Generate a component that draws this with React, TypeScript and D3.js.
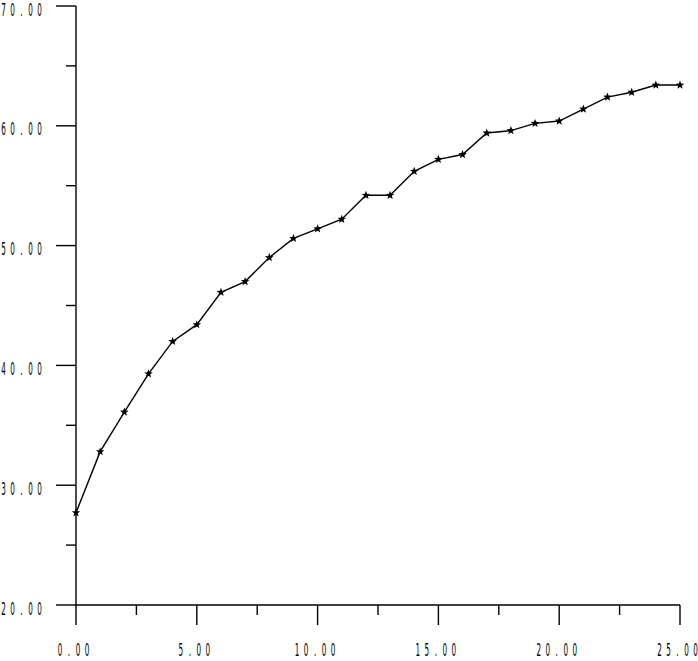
import React from "react";
import * as d3 from "d3";

const xValues = [0,1,2,3,4,5,6,7,8,9,10,11,12,13,14,15,16,17,18,19,20,21,22,23,24,25];
const yValues = [27.7,32.8,36.1,39.3,42.0,43.4,46.1,47.0,49.0,50.6,51.4,52.2,54.2,54.2,56.2,57.2,57.6,59.4,59.6,60.2,60.4,61.4,62.4,62.8,63.4,63.4];
const xMajorTicks = [0,5,10,15,20,25];
const xMinorTicks = [2.5,7.5,12.5,17.5,22.5];
const yMajorTicks = [20,30,40,50,60,70];
const yMinorTicks = [25,35,45,55,65];

const W = 698, H = 661;
const x = d3.scaleLinear().domain([0,25]).range([76,680]);
const y = d3.scaleLinear().domain([20,70]).range([605,6]);

const fmt = (v: number) => v.toFixed(2);
const FONT = "'DejaVu Sans', sans-serif";
const PITCH = 9;

function Label({ s, cx, baseline }: { s: string; cx: number; baseline: number }) {
  const n = s.length;
  const first = cx - ((n - 1) * PITCH) / 2;
  return (
    <g>
      {s.split("").map((ch, i) => (
        <text key={i} transform={`translate(${first + i * PITCH},${baseline}) scale(0.4,1)`}
          textAnchor="middle" fontFamily={FONT} fontSize={18} fill="#000">{ch}</text>
      ))}
    </g>
  );
}

function star(cx: number, cy: number, r: number) {
  const pts: string[] = [];
  for (let i = 0; i < 10; i++) {
    const rr = i % 2 === 0 ? r : r * 0.42;
    const a = -Math.PI / 2 + (i * Math.PI) / 5;
    pts.push(`${cx + rr * Math.cos(a)},${cy + rr * Math.sin(a)}`);
  }
  return pts.join(" ");
}

export default function App() {
  const line = d3.line<number>().x((_, i) => x(xValues[i])).y((v) => y(v));
  return (
    <svg width={W} height={H} style={{ position: "absolute", left: 0, top: 0, background: "#fff" }}>
      <rect width={W} height={H} fill="#fff" />
      <line x1={x(0)} x2={x(0)} y1={y(70)} y2={y(20)} stroke="#000" strokeWidth={1.4} />
      <line x1={x(0)} x2={x(25)} y1={y(20)} y2={y(20)} stroke="#000" strokeWidth={1.4} />
      {yMajorTicks.map((t) => {
        const s = fmt(t);
        const cx = 39.5 - ((s.length - 1) * PITCH) / 2;
        return (
          <g key={"ym" + t}>
            <line x1={x(0) - 20} x2={x(0)} y1={y(t)} y2={y(t)} stroke="#000" strokeWidth={1.4} />
            <Label s={s} cx={cx} baseline={y(t) + 9.5} />
          </g>
        );
      })}
      {yMinorTicks.map((t) => (
        <line key={"yn" + t} x1={x(0) - 10} x2={x(0)} y1={y(t)} y2={y(t)} stroke="#000" strokeWidth={1.4} />
      ))}
      {xMajorTicks.map((t) => (
        <g key={"xm" + t}>
          <line x1={x(t)} x2={x(t)} y1={y(20)} y2={y(20) + 20} stroke="#000" strokeWidth={1.4} />
          <Label s={fmt(t)} cx={x(t) - 2.5} baseline={656} />
        </g>
      ))}
      {xMinorTicks.map((t) => (
        <line key={"xn" + t} x1={x(t)} x2={x(t)} y1={y(20)} y2={y(20) + 10} stroke="#000" strokeWidth={1.4} />
      ))}
      <path d={line(yValues) || ""} fill="none" stroke="#000" strokeWidth={1.4} />
      {yValues.map((v, i) => (
        <polygon key={i} points={star(x(xValues[i]), y(v), 4.5)} fill="#000" />
      ))}
    </svg>
  );
}
